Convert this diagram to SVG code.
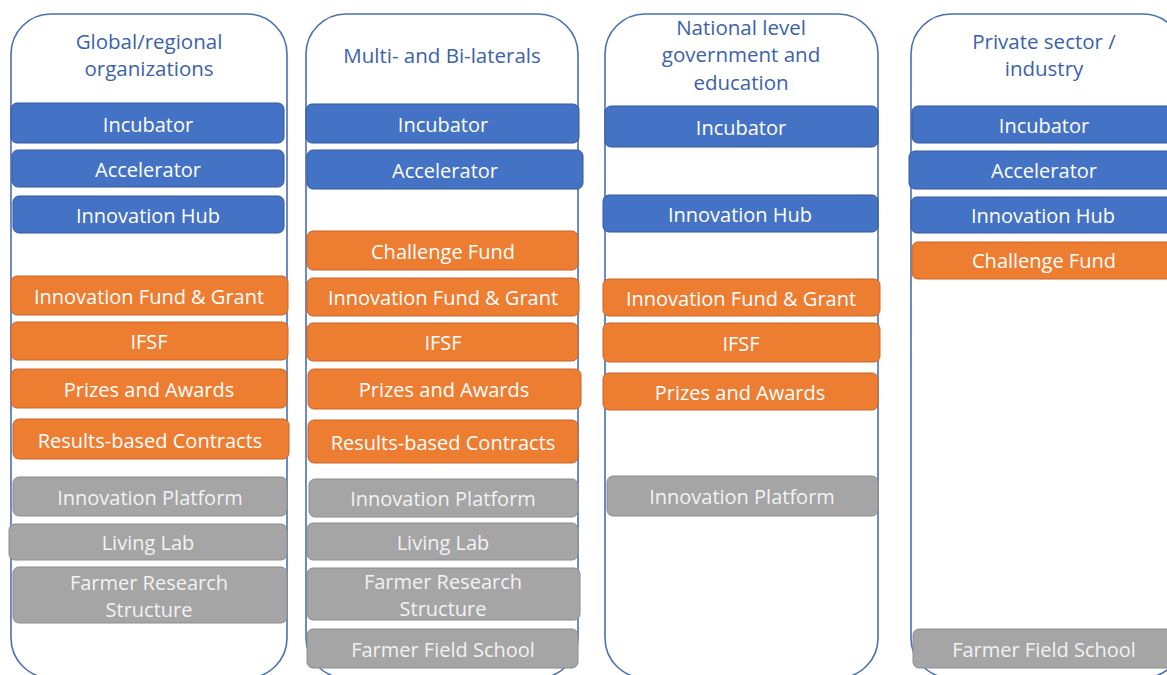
<svg xmlns="http://www.w3.org/2000/svg" width="1167" height="675" viewBox="0 0 1167 675">
<style>
.col{fill:#fff;stroke:#4a6fb5;stroke-width:1.6}
.b{fill:#4472c4;stroke:#34589b;stroke-width:1}
.o{fill:#ed7d31;stroke:#c7652a;stroke-width:1}
.g{fill:#a5a5a5;stroke:#8c8c8c;stroke-width:1}
text{font-family:"Open Sans","Liberation Sans",sans-serif;font-size:20px;text-anchor:middle;dominant-baseline:central}
.t{fill:#ffffff}
.tg{fill:#f2f2f2}
.h{fill:#3b62a8;font-size:20.5px}
</style>
<rect width="1167" height="675" fill="#fff"/>
<g id="col1">
<rect class="col" x="11" y="14" width="276" height="664" rx="40"/>
<text class="h" x="149" y="41">Global/regional</text>
<text class="h" x="149" y="68">organizations</text>
</g>
<g id="col2">
<rect class="col" x="306" y="14" width="272" height="664" rx="40"/>
<text class="h" x="442" y="55">Multi- and Bi-laterals</text>
</g>
<g id="col3">
<rect class="col" x="605" y="14" width="273" height="664" rx="40"/>
<text class="h" x="741" y="27">National level</text>
<text class="h" x="741" y="54">government and</text>
<text class="h" x="741" y="82">education</text>
</g>
<g id="col4">
<rect class="col" x="911" y="14" width="272" height="664" rx="40"/>
<text class="h" x="1044" y="41">Private sector /</text>
<text class="h" x="1044" y="68">industry</text>
</g>
<g id="c1-incubator"><rect class="b" x="11" y="103" width="273" height="40" rx="6"/><text class="t" x="148" y="124">Incubator</text></g>
<g id="c1-accelerator"><rect class="b" x="12" y="150" width="272" height="37" rx="6"/><text class="t" x="148" y="169">Accelerator</text></g>
<g id="c1-hub"><rect class="b" x="13" y="196" width="271" height="37" rx="6"/><text class="t" x="148" y="215">Innovation Hub</text></g>
<g id="c1-fund"><rect class="o" x="11" y="276" width="277" height="39" rx="6"/><text class="t" x="149" y="296">Innovation Fund &amp; Grant</text></g>
<g id="c1-ifsf"><rect class="o" x="11" y="322" width="277" height="38" rx="6"/><text class="t" x="149" y="341">IFSF</text></g>
<g id="c1-prizes"><rect class="o" x="11" y="369" width="276" height="39" rx="6"/><text class="t" x="149" y="389">Prizes and Awards</text></g>
<g id="c1-results"><rect class="o" x="13" y="419" width="276" height="40" rx="6"/><text class="t" x="150" y="440">Results-based Contracts</text></g>
<g id="c1-platform"><rect class="g" x="13" y="477" width="274" height="39" rx="6"/><text class="tg" x="150" y="497">Innovation Platform</text></g>
<g id="c1-living"><rect class="g" x="9" y="524" width="278" height="36" rx="6"/><text class="tg" x="148" y="542">Living Lab</text></g>
<g id="c1-frs"><rect class="g" x="13" y="567" width="274" height="56" rx="6"/><text class="tg" x="149" y="582">Farmer Research</text><text class="tg" x="149" y="609">Structure</text></g>
<g id="c2-incubator"><rect class="b" x="306" y="104" width="273" height="39" rx="6"/><text class="t" x="443" y="124">Incubator</text></g>
<g id="c2-accelerator"><rect class="b" x="307" y="150" width="276" height="39" rx="6"/><text class="t" x="445" y="170">Accelerator</text></g>
<g id="c2-challenge"><rect class="o" x="307" y="231" width="271" height="39" rx="6"/><text class="t" x="443" y="251">Challenge Fund</text></g>
<g id="c2-fund"><rect class="o" x="307" y="278" width="272" height="38" rx="6"/><text class="t" x="443" y="297">Innovation Fund &amp; Grant</text></g>
<g id="c2-ifsf"><rect class="o" x="307" y="323" width="271" height="38" rx="6"/><text class="t" x="443" y="342">IFSF</text></g>
<g id="c2-prizes"><rect class="o" x="308" y="369" width="273" height="40" rx="6"/><text class="t" x="444" y="389">Prizes and Awards</text></g>
<g id="c2-results"><rect class="o" x="308" y="420" width="270" height="43" rx="6"/><text class="t" x="443" y="442">Results-based Contracts</text></g>
<g id="c2-platform"><rect class="g" x="309" y="479" width="269" height="38" rx="6"/><text class="tg" x="443" y="498">Innovation Platform</text></g>
<g id="c2-living"><rect class="g" x="307" y="523" width="271" height="37" rx="6"/><text class="tg" x="443" y="542">Living Lab</text></g>
<g id="c2-frs"><rect class="g" x="307" y="568" width="273" height="52" rx="6"/><text class="tg" x="443" y="581">Farmer Research</text><text class="tg" x="443" y="608">Structure</text></g>
<g id="c2-ffs"><rect class="g" x="307" y="629" width="271" height="39" rx="6"/><text class="tg" x="443" y="649">Farmer Field School</text></g>
<g id="c3-incubator"><rect class="b" x="605" y="106" width="273" height="41" rx="6"/><text class="t" x="741" y="127">Incubator</text></g>
<g id="c3-hub"><rect class="b" x="603" y="195" width="275" height="37" rx="6"/><text class="t" x="740" y="214">Innovation Hub</text></g>
<g id="c3-fund"><rect class="o" x="603" y="279" width="277" height="37" rx="6"/><text class="t" x="741" y="298">Innovation Fund &amp; Grant</text></g>
<g id="c3-ifsf"><rect class="o" x="603" y="323" width="277" height="39" rx="6"/><text class="t" x="741" y="343">IFSF</text></g>
<g id="c3-prizes"><rect class="o" x="603" y="373" width="275" height="37" rx="6"/><text class="t" x="740" y="392">Prizes and Awards</text></g>
<g id="c3-platform"><rect class="g" x="607" y="476" width="271" height="40" rx="6"/><text class="tg" x="742" y="496">Innovation Platform</text></g>
<g id="c4-incubator"><rect class="b" x="912" y="106" width="262" height="37" rx="6"/><text class="t" x="1044" y="125">Incubator</text></g>
<g id="c4-accelerator"><rect class="b" x="909" y="151" width="265" height="38" rx="6"/><text class="t" x="1044" y="170">Accelerator</text></g>
<g id="c4-hub"><rect class="b" x="911" y="197" width="263" height="36" rx="6"/><text class="t" x="1043" y="215">Innovation Hub</text></g>
<g id="c4-challenge"><rect class="o" x="912" y="242" width="262" height="37" rx="6"/><text class="t" x="1044" y="260">Challenge Fund</text></g>
<g id="c4-ffs"><rect class="g" x="913" y="629" width="261" height="39" rx="6"/><text class="tg" x="1044" y="649">Farmer Field School</text></g>
<g id="connectors"></g>
</svg>
